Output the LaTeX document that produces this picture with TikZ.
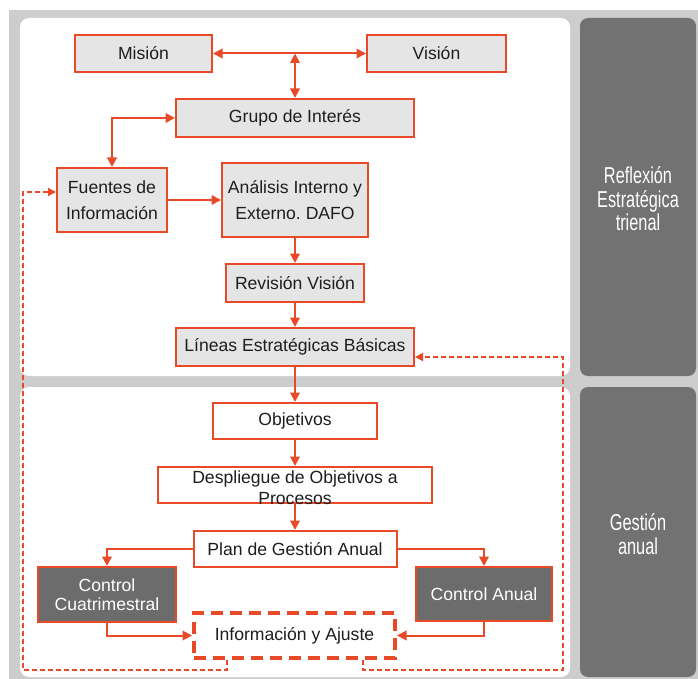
\documentclass[tikz,border=0pt]{standalone}
\usepackage{fontspec}
\setmainfont{Liberation Sans}
\newfontfamily\narrowfont[FakeStretch=0.71]{Liberation Sans}
\usetikzlibrary{arrows.meta,calc}
\definecolor{org}{RGB}{232,74,40}
\definecolor{bggray}{RGB}{205,205,205}
\definecolor{panelgray}{RGB}{114,114,114}
\definecolor{boxgray}{RGB}{229,229,229}
\definecolor{ctrlgray}{RGB}{108,108,108}
\definecolor{txt}{RGB}{30,30,30}
\tikzset{
  box/.style={draw=org, line width=2pt, fill=boxgray, text=txt, inner sep=0pt, align=center},
  wbox/.style={box, fill=white},
  cbox/.style={box, fill=ctrlgray, text=white, font=\fontsize{17.6}{18.5}\selectfont},
  conn/.style={draw=org, line width=2pt, -{Triangle[length=9.5pt,width=9.5pt]}},
  both/.style={conn, {Triangle[length=9.5pt,width=9.5pt]}-{Triangle[length=9.5pt,width=9.5pt]}},
  fb/.style={draw=org, line width=1.6pt, dash pattern=on 5pt off 3pt, -{Triangle[length=8pt,width=8pt]}},
  infobox/.style={draw=org, line width=4pt, dash pattern=on 12pt off 7pt, fill=white, text=txt, inner sep=0pt},
  side/.style={text=white, align=center, font={\narrowfont\fontsize{23}{23.5}\selectfont}}
}
\begin{document}
\frenchspacing
\begin{tikzpicture}[x=1pt,y=-1pt,font=\fontsize{17.6}{26}\selectfont]
\useasboundingbox (0,0) rectangle (698,679);
% background
\fill[white] (0,0) rectangle (698,679);
\fill[bggray] (9,10) rectangle (698,679);
\fill[white, rounded corners=9pt] (20,18) rectangle (570,376);
\fill[white, rounded corners=9pt] (20,387) rectangle (570,677);
\fill[panelgray, rounded corners=8pt] (580,18) rectangle (696,376);
\fill[panelgray, rounded corners=8pt] (580,387) rectangle (696,677);
\node[side] (refl) at (638,199) {Reflexión\\Estratégica\\trienal};
\node[side] (gest) at (638,534) {Gestión\\anual};
% boxes
\node[box, minimum width=137pt, minimum height=37pt] (mision) at (143.5,53.5) {Misión};
\node[box, minimum width=139pt, minimum height=37pt] (vision) at (436.5,53.5) {Visión};
\node[box, minimum width=238pt, minimum height=38pt] (grupo) at (295,118) {Grupo de Interés};
\node[box, minimum width=110pt, minimum height=64pt] (fuentes) at (112,200) {Fuentes de\\Información};
\node[box, minimum width=146pt, minimum height=74pt] (analisis) at (295,200) {Análisis Interno y\\Externo. DAFO};
\node[box, minimum width=138pt, minimum height=38pt] (revision) at (295,283) {Revisión Visión};
\node[box, minimum width=238pt, minimum height=38pt] (lineas) at (295,347) {Líneas Estratégicas Básicas};
\node[wbox, minimum width=164pt, minimum height=36pt] (objetivos) at (295,421) {Objetivos};
\node[wbox, minimum width=274pt, minimum height=36pt] (despliegue) at (295,485) {};
\node[text=txt, align=center, font=\fontsize{17.6}{21}\selectfont] (desptext) at ([yshift=-2.5pt]despliegue.center) {Despliegue de Objetivos a\\Procesos};
\node[wbox, minimum width=203pt, minimum height=36pt] (plan) at (295,549) {Plan de Gestión Anual};
\node[cbox, minimum width=138pt, minimum height=55pt] (ccuat) at (107,594.5) {Control\\Cuatrimestral};
\node[cbox, minimum width=136pt, minimum height=54pt] (canual) at (484,594) {Control Anual};
\node[infobox, minimum width=201pt, minimum height=45pt] (info) at (294.5,635.5) {Información y Ajuste};
% connectors
\coordinate (j) at (grupo.north |- mision.east);
\draw[both] (mision.east) -- (vision.west);
\draw[both] (j) -- (grupo.north);
\draw[both] (grupo.west) -| (fuentes.north);
\draw[conn] (fuentes.east) -- (analisis.west);
\draw[conn] (analisis.south) -- (revision.north);
\draw[conn] (revision.south) -- (lineas.north);
\draw[conn] (lineas.south) -- (objetivos.north);
\draw[conn] (objetivos.south) -- (despliegue.north);
\draw[conn] (despliegue.south) -- (plan.north);
\draw[conn] (plan.west) -| (ccuat.north);
\draw[conn] (plan.east) -| (canual.north);
\draw[conn] (ccuat.south) |- (info.west);
\draw[conn] (canual.south) |- (info.east);
% dashed feedback
\coordinate (lb) at (23,192);
\coordinate (rb) at (563,357);
\draw[fb] ([xshift=-67.5pt]info.south) -- ++(0,10) -| (lb) -- (lb -| fuentes.west);
\draw[fb] ([xshift=68.5pt]info.south) -- ++(0,10) -| (rb) -- (rb -| lineas.east);
\end{tikzpicture}
\end{document}
